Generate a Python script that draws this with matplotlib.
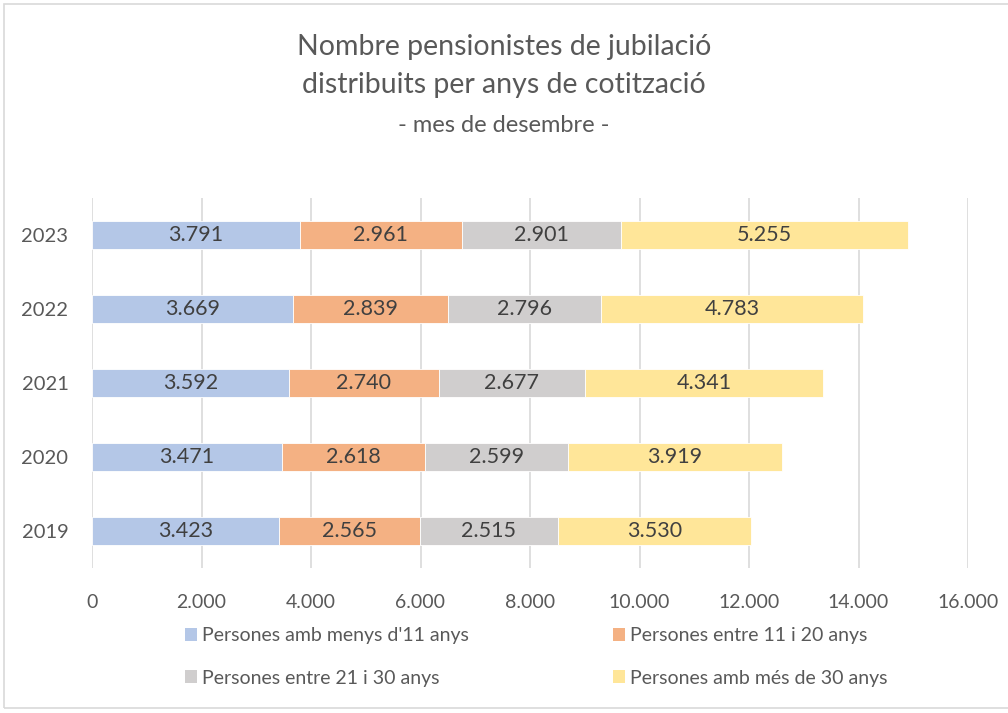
import matplotlib
matplotlib.use("Agg")
import matplotlib.pyplot as plt
from matplotlib.patches import Rectangle, Patch

years = ["2019", "2020", "2021", "2022", "2023"]
series_names = ["Persones amb menys d'11 anys", "Persones entre 11 i 20 anys",
                "Persones entre 21 i 30 anys", "Persones amb més de 30 anys"]
menys11 = [3423, 3471, 3592, 3669, 3791]
entre11_20 = [2565, 2618, 2740, 2839, 2961]
entre21_30 = [2515, 2599, 2677, 2796, 2901]
mes30 = [3530, 3919, 4341, 4783, 5255]
xticks = [0, 2000, 4000, 6000, 8000, 10000, 12000, 14000, 16000]

colors = ["#B4C7E7", "#F4B183", "#D0CECE", "#FFE699"]
txt = "#595959"
plt.rcParams['font.family'] = ['Lato', 'DejaVu Sans']

fig = plt.figure(figsize=(10.08, 7.13), dpi=100)
ax = fig.add_axes([92/1008, 145/713, 876/1008, 370/713])

def fmt(v):
    return f"{v:,}".replace(",", ".")

left = [0]*len(years)
ypos = list(range(len(years)))
for vals, c in zip([menys11, entre11_20, entre21_30, mes30], colors):
    bars = ax.barh(ypos, vals, left=left, height=0.38, color=c, edgecolor='white', linewidth=0.6, zorder=3)
    for b, v, l in zip(bars, vals, left):
        ax.text(l + v/2, b.get_y() + b.get_height()/2, fmt(v), ha='center', va='center',
                fontsize=15.5, color="#404040", zorder=4)
    left = [a + b for a, b in zip(left, vals)]

ax.set_xlim(0, 16000)
ax.set_ylim(-0.5, len(years)-0.5)
ax.set_xticks(xticks)
ax.set_xticklabels([fmt(x) for x in xticks], fontsize=14, color=txt)
ax.set_yticks(ypos)
ax.set_yticklabels(years, fontsize=14.5, color=txt)
ax.tick_params(axis='y', length=0, pad=17)
ax.tick_params(axis='x', length=0, pad=19)
ax.grid(axis='x', color='#D9D9D9', linewidth=1.2, zorder=0)
for s in ax.spines.values():
    s.set_visible(False)

fig.text(0.5, 1-47/713, "Nombre pensionistes de jubilació", ha='center', va='center', fontsize=20.5, color=txt)
fig.text(0.5, 1-85/713, "distribuits per anys de cotització", ha='center', va='center', fontsize=20.5, color=txt)
fig.text(0.5, 1-125/713, "- mes de desembre -", ha='center', va='center', fontsize=17, color=txt)

order = [0, 2, 1, 3]
handles = [Patch(facecolor=colors[i], edgecolor='none') for i in order]
labels = [series_names[i] for i in order]
leg = fig.legend(handles, labels, loc='center left', bbox_to_anchor=(185/1008, 1-657/713),
                 ncol=2, frameon=False, fontsize=14, handlelength=0.62, handleheight=0.62,
                 handletextpad=0.26, columnspacing=7.4, labelspacing=1.3, borderpad=0,
                 borderaxespad=0, labelcolor=txt)

fig.patches.append(Rectangle((4/1008, 5/713), 1100/1008, 704/713, transform=fig.transFigure,
                             fill=False, edgecolor='#D9D9D9', linewidth=1.2))

fig.savefig("out.png", dpi=100)
